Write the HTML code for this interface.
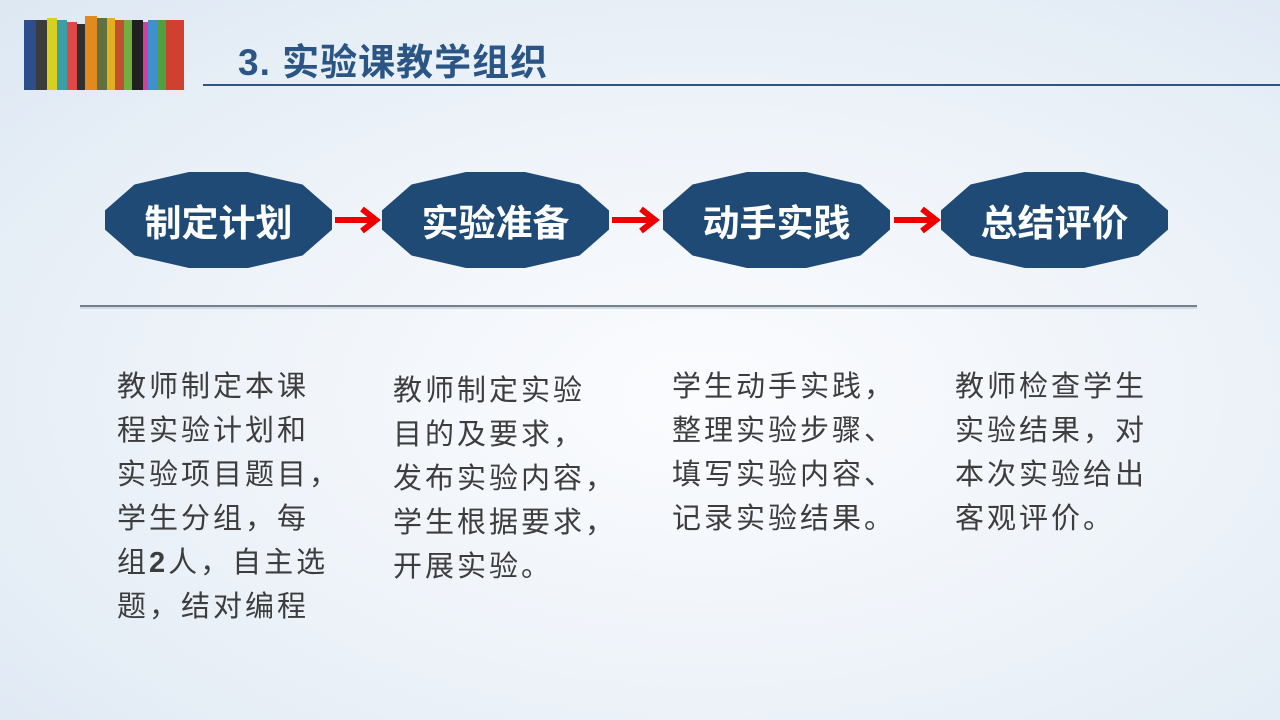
<!DOCTYPE html><html><head><meta charset="utf-8"><style>
body{margin:0;width:1280px;height:720px;overflow:hidden;background:radial-gradient(ellipse at 55% 55%,#fbfcfe 0%,#eef3f9 50%,#dde8f3 100%);font-family:"Liberation Sans","Noto Sans CJK SC",sans-serif;position:relative}
.a{position:absolute}
.node{position:absolute;top:172px;width:227px;height:96px;background:#1f4a75;clip-path:polygon(0 40%,13% 13%,37% 0,63% 0,87% 13%,100% 40%,100% 60%,87% 87%,63% 100%,37% 100%,13% 87%,0 60%);color:#fff;font-weight:bold;font-size:37px;display:flex;align-items:center;justify-content:center}
.col{position:absolute;top:365px;font-size:29px;letter-spacing:3px;line-height:44px;color:#3d3d3d}
</style></head><body>
<div class="a" style="left:24px;top:16px;width:170px;height:74px;display:flex;align-items:flex-end">
<div style="width:12px;height:70px;background:#2c4f8c"></div><div style="width:11px;height:70px;background:#3c3c3c"></div><div style="width:10px;height:72px;background:#d8d020"></div><div style="width:10px;height:70px;background:#3aa0a8"></div><div style="width:10px;height:68px;background:#e04848"></div><div style="width:8px;height:66px;background:#303030"></div><div style="width:12px;height:74px;background:#e08a20"></div><div style="width:10px;height:72px;background:#607040"></div><div style="width:8px;height:72px;background:#e0b020"></div><div style="width:9px;height:70px;background:#c05030"></div><div style="width:8px;height:70px;background:#70b040"></div><div style="width:11px;height:70px;background:#202020"></div><div style="width:5px;height:68px;background:#d040a0"></div><div style="width:10px;height:70px;background:#4090d0"></div><div style="width:8px;height:70px;background:#50a040"></div><div style="width:18px;height:70px;background:#d04030"></div></div>
<div class="a" style="left:238px;top:32px;font-size:37px;letter-spacing:1px;font-weight:bold;color:#2a5585">3. 实验课教学组织</div>
<div class="a" style="left:203px;top:84px;width:1077px;height:2px;background:#2f5580"></div>
<div class="node" style="left:105px">制定计划</div>
<div class="node" style="left:382px">实验准备</div>
<div class="node" style="left:663px">动手实践</div>
<div class="node" style="left:941px">总结评价</div>
<svg class="a" style="left:0;top:0" width="1280" height="720">
<g stroke="#e00" stroke-width="6" fill="none">
<line x1="335" y1="220" x2="372" y2="220"/><polyline points="362,209 376,220 362,231"/>
<line x1="612" y1="220" x2="651" y2="220"/><polyline points="641,209 655,220 641,231"/>
<line x1="894" y1="220" x2="932" y2="220"/><polyline points="922,209 936,220 922,231"/>
</g>
<line x1="80" y1="306" x2="1197" y2="306" stroke="#2a3a4c" stroke-width="1.2"/>
<line x1="80" y1="308" x2="1197" y2="308" stroke="#d4dae2" stroke-width="2"/>
</svg>
<div class="col" style="left:117px">教师制定本课<br>程实验计划和<br>实验项目题目，<br>学生分组，每<br>组<b>2</b>人，自主选<br>题，结对编程</div>
<div class="col" style="left:393px;top:369px">教师制定实验<br>目的及要求，<br>发布实验内容，<br>学生根据要求，<br>开展实验。</div>
<div class="col" style="left:672px">学生动手实践，<br>整理实验步骤、<br>填写实验内容、<br>记录实验结果。</div>
<div class="col" style="left:955px">教师检查学生<br>实验结果，对<br>本次实验给出<br>客观评价。</div>
</body></html>
